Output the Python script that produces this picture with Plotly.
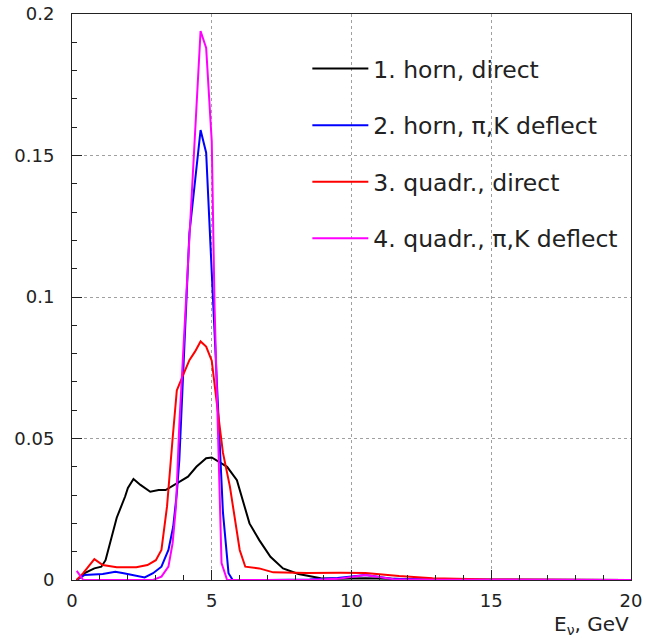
import plotly.graph_objects as go

# ---- data (E_nu in GeV, arbitrary normalised flux) ----
horn_direct_x = [0.17, 0.45, 0.8, 1.05, 1.2, 1.4, 1.6, 1.9, 2.0, 2.2, 2.45, 2.8, 3.1, 3.35,
                 3.65, 3.75, 4.15, 4.45, 4.8, 5.0, 5.25, 5.55, 5.9, 6.1, 6.35, 6.7, 7.1,
                 7.55, 8.1, 8.9, 9.5, 10.5, 11.5, 13.0, 20.0]
horn_direct_y = [0.0, 0.0024, 0.0041, 0.0047, 0.007, 0.015, 0.022, 0.0295, 0.0325, 0.0357,
                 0.0336, 0.0312, 0.0318, 0.0318, 0.0336, 0.0342, 0.0365, 0.040, 0.043,
                 0.0433, 0.0418, 0.040, 0.0353, 0.0283, 0.020, 0.0141, 0.0082, 0.0041,
                 0.0021, 0.0006, 0.0004, 0.0006, 0.0003, 0.0001, 0.0]

horn_deflect_x = [0.17, 0.45, 1.1, 1.55, 1.85, 2.6, 2.9, 3.2, 3.45, 3.62, 3.75, 3.84, 4.2,
                  4.6, 4.8, 5.0, 5.2, 5.4, 5.6, 5.75, 7.0, 8.5, 9.5, 10.5, 11.5, 13.0, 20.0]
horn_deflect_y = [0.0, 0.0018, 0.0021, 0.0029, 0.0024, 0.0009, 0.0024, 0.0047, 0.0106,
                  0.0188, 0.0306, 0.0424, 0.1225, 0.159, 0.151, 0.109, 0.067, 0.024,
                  0.0024, 0.0, 0.0, 0.0002, 0.0007, 0.0018, 0.0004, 0.0001, 0.0]

quad_direct_x = [0.17, 0.4, 0.8, 1.1, 1.6, 2.3, 2.7, 3.0, 3.2, 3.4, 3.6, 3.75, 4.0, 4.2,
                 4.4, 4.6, 4.8, 5.0, 5.2, 5.4, 5.65, 5.85, 6.0, 6.2, 6.7, 7.2, 8.4, 9.6,
                 10.5, 11.7, 12.9, 15.0, 20.0]
quad_direct_y = [0.0, 0.0024, 0.0074, 0.0053, 0.0045, 0.0045, 0.0053, 0.007, 0.0106,
                 0.026, 0.050, 0.067, 0.073, 0.0777, 0.0807, 0.0843, 0.0825, 0.0775,
                 0.061, 0.045, 0.033, 0.021, 0.0106, 0.0047, 0.0041, 0.0027, 0.0025,
                 0.0026, 0.0025, 0.0014, 0.0006, 0.0002, 0.0]

quad_deflect_x = [0.17, 0.4, 2.9, 3.2, 3.45, 3.6, 3.72, 3.84, 4.6, 4.8, 5.0, 5.1, 5.35,
                  5.55, 8.5, 9.5, 10.5, 11.5, 13.0, 20.0]
quad_deflect_y = [0.0032, 0.0, 0.0, 0.0012, 0.0047, 0.013, 0.026, 0.055, 0.194, 0.188,
                  0.155, 0.097, 0.006, 0.0, 0.0, 0.0004, 0.0018, 0.0003, 0.0001, 0.0]

series_names = ["1. horn, direct", "2. horn, \u03c0,K deflect",
                "3. quadr., direct", "4. quadr., \u03c0,K deflect"]
series_colors = ["#000000", "#0000ff", "#ff0000", "#ff00ff"]

x_tickvals = [0, 5, 10, 15, 20]
y_tickvals = [0, 0.05, 0.1, 0.15, 0.2]

FONT = "DejaVu Sans"

fig = go.Figure()
for name, color, xs, ys in zip(
        series_names, series_colors,
        [horn_direct_x, horn_deflect_x, quad_direct_x, quad_deflect_x],
        [horn_direct_y, horn_deflect_y, quad_direct_y, quad_deflect_y]):
    fig.add_trace(go.Scatter(x=xs, y=ys, mode="lines", name=name,
                             legendgroup=name,
                             line=dict(color=color, width=2)))

axis_common = dict(
    showline=True, linecolor="#222222", linewidth=1, mirror=True,
    ticks="inside", ticklen=10, tickcolor="#222222", tickwidth=1,
    showgrid=True, gridcolor="#a0a0a0", griddash="dot", gridwidth=1,
    zeroline=False, automargin=False,
    tickfont=dict(family=FONT, size=18, color="#222222"),
)

fig.update_xaxes(range=[0, 20], tickvals=x_tickvals,
                 minor=dict(dtick=1, ticks="inside", ticklen=5, tickcolor="#222222",
                            showgrid=False),
                 ticklabelstandoff=4,
                 **axis_common)
fig.update_yaxes(range=[0, 0.2], tickvals=y_tickvals,
                 minor=dict(dtick=0.01, ticks="inside", ticklen=5, tickcolor="#222222",
                            showgrid=False),
                 ticklabelstandoff=13,
                 **axis_common)

fig.add_annotation(text="E<sub>\u03bd</sub>, GeV", xref="paper", yref="paper",
                   x=1.0, y=-0.08, xanchor="right", yanchor="middle",
                   showarrow=False, font=dict(family=FONT, size=20, color="#222222"))

fig.update_layout(
    width=646, height=639,
    margin=dict(l=72, r=15, t=14, b=59),
    plot_bgcolor="white", paper_bgcolor="white",
    showlegend=True,
    legend=dict(x=0.421, y=0.942, xanchor="left", yanchor="top",
                bgcolor="rgba(0,0,0,0)", borderwidth=0,
                font=dict(family=FONT, size=23.5, color="#222222"),
                tracegroupgap=23, itemwidth=56),
    font=dict(family=FONT),
)

fig.write_html("out.html")
